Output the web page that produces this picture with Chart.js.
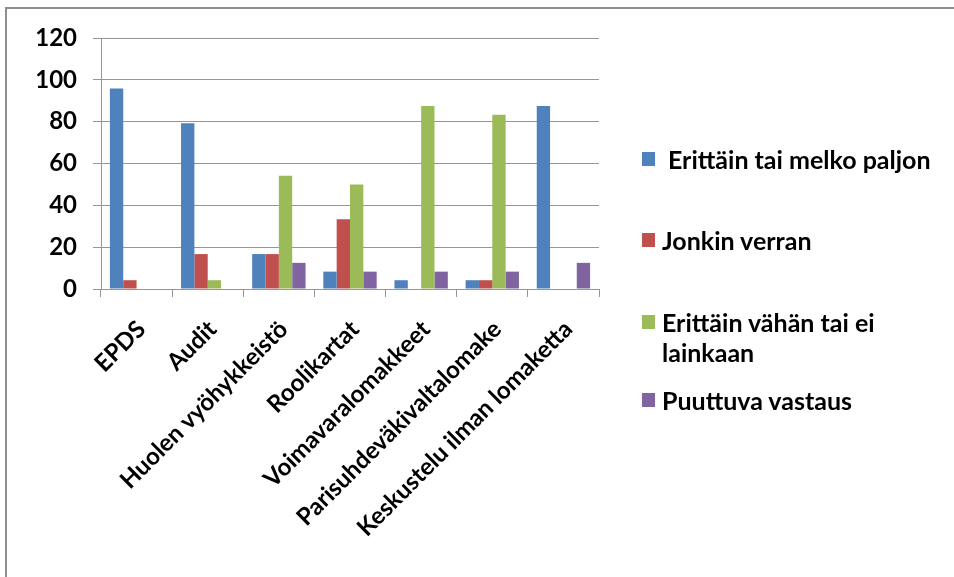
<!DOCTYPE html>
<html lang="fi">
<head>
<meta charset="utf-8">
<script src="https://cdn.jsdelivr.net/npm/chart.js@4/dist/chart.umd.min.js"></script>
<style>
  html, body { margin: 0; padding: 0; background: #fff; }
  #wrap { position: relative; width: 954px; height: 577px; overflow: hidden; }
  #frame { position: absolute; left: 5px; top: 7px; width: 960px; height: 600px;
           border-top: 2px solid #8e8e8e; border-left: 2px solid #8e8e8e; }
  canvas { position: absolute; left: 0; top: 0; }
  #legend { position: absolute; left: 642px; top: 0; font-family: Lato, "Open Sans", sans-serif;
            font-weight: bold; font-size: 25px; color: #000; line-height: 30px; }
  .item { position: absolute; left: 0; white-space: nowrap; }
  .sw { position: absolute; left: 0; width: 13px; height: 14px; }
  .txt { position: absolute; }
</style>
</head>
<body>
<div id="wrap">
  <div id="frame"></div>
  <canvas id="c" width="954" height="577"></canvas>
  <div id="legend"></div>
</div>
<script>
// Lomakkeiden käyttö (%)
const categories = ["EPDS", "Audit", "Huolen vyöhykkeistö", "Roolikartat",
  "Voimavaralomakkeet", "Parisuhdeväkivaltalomake", "Keskustelu ilman lomaketta"];
const seriesNames = ["Erittäin tai melko paljon", "Jonkin verran",
  "Erittäin vähän tai ei lainkaan", "Puuttuva vastaus"];
const paljon    = [95.8, 79.2, 16.7, 8.3, 4.2, 4.2, 87.5];
const jonkin    = [4.2, 16.7, 16.7, 33.3, 0, 4.2, 0];
const vahan     = [0, 4.2, 54.2, 50.0, 87.5, 83.3, 0];
const puuttuva  = [0, 0, 12.5, 8.3, 8.3, 8.3, 12.5];
const yTicks = [0, 20, 40, 60, 80, 100, 120];

const colors = ["#4F81BD", "#C0504D", "#9BBB59", "#8064A2"];
const values = [paljon, jonkin, vahan, puuttuva];
const font = { family: "Lato, 'Open Sans', sans-serif", weight: "bold", size: 24 };

const chart = new Chart(document.getElementById("c"), {
  type: "bar",
  data: {
    labels: categories,
    datasets: seriesNames.map((name, i) => ({
      label: name,
      data: values[i],
      backgroundColor: colors[i],
      borderWidth: 0,
      categoryPercentage: 0.75,
      barPercentage: 1.0
    }))
  },
  options: {
    responsive: false,
    animation: false,
    layout: { padding: { left: 0, right: 355, top: 38, bottom: 0 } },
    plugins: { legend: { display: false }, tooltip: { enabled: false } },
    scales: {
      x: {
        grid: { drawOnChartArea: false, drawTicks: true, tickLength: 8, color: "#969696", offset: true },
        border: { color: "#969696", width: 1 },
        ticks: { color: "#000", font: font, minRotation: 45, maxRotation: 45, padding: 18,
                 labelOffset: 5, autoSkip: false },
        afterFit: s => { s.height = 577 - 289; }
      },
      y: {
        min: 0, max: 120,
        afterBuildTicks: s => { s.ticks = yTicks.map(v => ({ value: v })); },
        grid: { color: "#969696", lineWidth: 1, tickLength: 8 },
        border: { color: "#969696", width: 1 },
        ticks: { color: "#000", font: font, padding: 16 },
        afterFit: s => { s.width = 101; }
      }
    }
  }
});

// Selite oikealle, merkit ja nimet aineistosarjoista
const legend = document.getElementById("legend");
const rows = [
  { top: 152, textLeft: 26, lines: [seriesNames[0]] },
  { top: 233, textLeft: 20, lines: [seriesNames[1]] },
  { top: 315, textLeft: 20, lines: ["Erittäin vähän tai ei", "lainkaan"] },
  { top: 393, textLeft: 20, lines: [seriesNames[3]] }
];
rows.forEach((r, i) => {
  const item = document.createElement("div");
  item.className = "item";
  item.style.top = r.top + "px";
  const sw = document.createElement("div");
  sw.className = "sw";
  sw.style.background = chart.data.datasets[i].backgroundColor;
  item.appendChild(sw);
  const t = document.createElement("div");
  t.className = "txt";
  t.style.left = r.textLeft + "px";
  t.style.top = "-8px";
  t.innerHTML = r.lines.join("<br>");
  item.appendChild(t);
  legend.appendChild(item);
});
</script>
</body>
</html>
